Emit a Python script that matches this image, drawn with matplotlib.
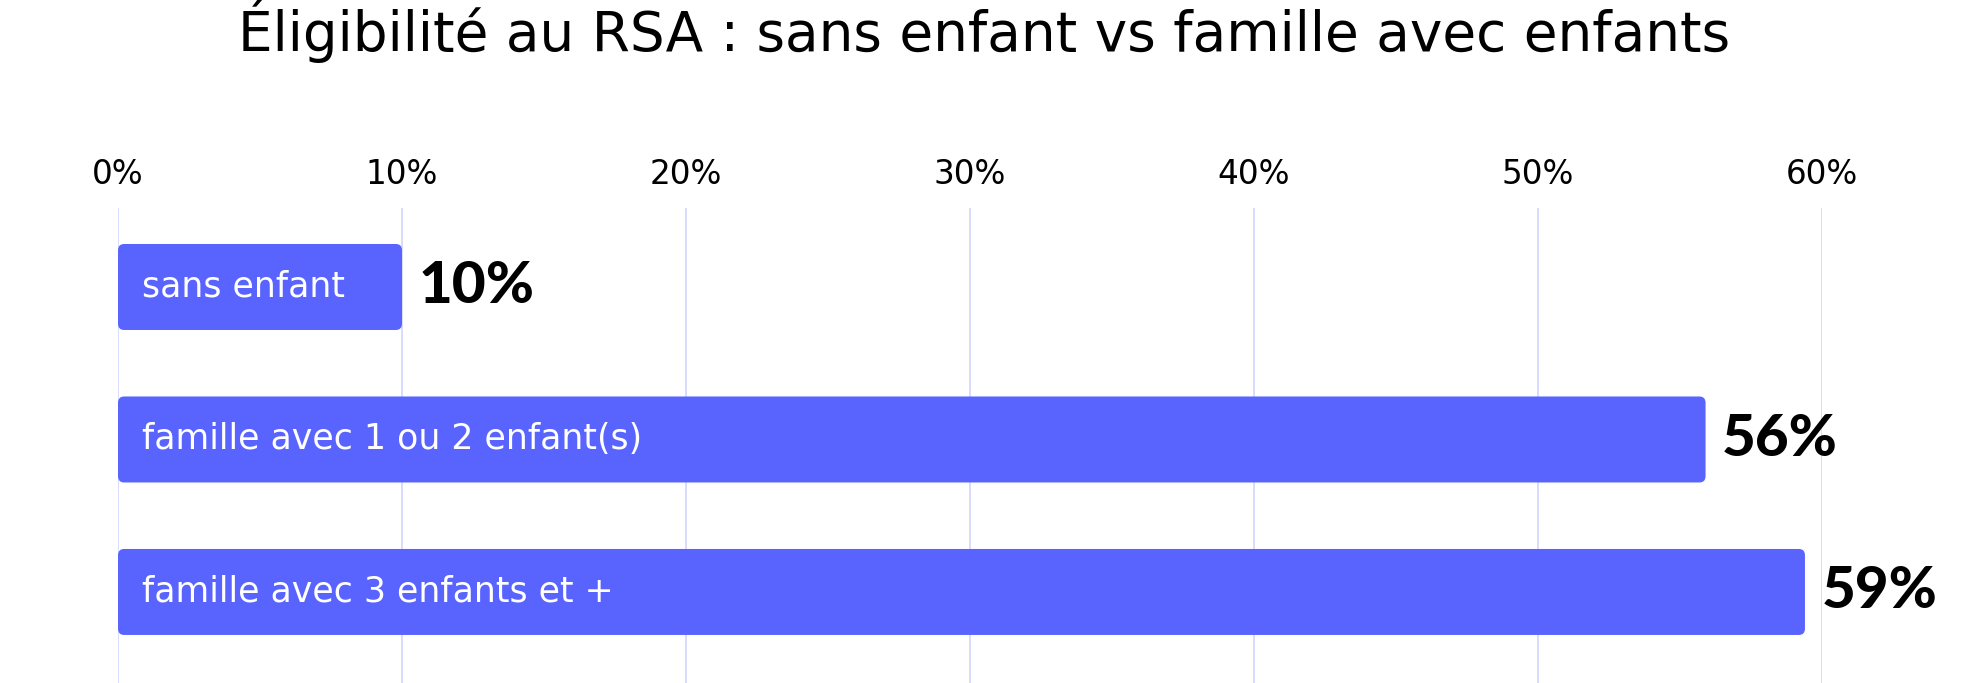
import matplotlib.pyplot as plt
from matplotlib.patches import FancyBboxPatch

categories = ["sans enfant", "famille avec 1 ou 2 enfant(s)", "famille avec 3 enfants et +"]
values = [10.0, 55.9, 59.4]
ticks = [0, 10, 20, 30, 40, 50, 60]
tick_labels = [f"{t}%" for t in ticks]

bar_color = "#5964FF"
grid_color = "#D6DAFB"

W, H = 1968, 683
fig = plt.figure(figsize=(W / 100, H / 100), dpi=100)
# axes spans x 0..60 -> px 118..1822, y from grid top (208px) to bottom
ax = fig.add_axes([118 / W, 0, (1822 - 118) / W, (H - 208) / H])
ax.set_xlim(0, 60)
ax.set_ylim(2.597, -0.518)

for s in ax.spines.values():
    s.set_visible(False)
ax.set_yticks([])
ax.xaxis.tick_top()
ax.set_xticks(ticks)
ax.set_xticklabels(tick_labels, fontsize=23.5, family="DejaVu Sans")
ax.tick_params(axis="x", length=0, pad=12)
for t in ticks:
    ax.axvline(t, color=grid_color, lw=1.3, zorder=0)

ypos = list(range(len(categories)))
bars = ax.barh(ypos, values, height=0.564, color=bar_color)
for b in bars:
    x0, y0, w, h = b.get_x(), b.get_y(), b.get_width(), b.get_height()
    b.set_visible(False)
    ax.add_patch(FancyBboxPatch((x0, y0), w, h,
                                boxstyle="round,pad=0,rounding_size=0.22",
                                mutation_aspect=28.4 / 152.5,
                                fc=bar_color, ec="none", zorder=2))

for y, cat, v in zip(ypos, categories, values):
    ax.text(0.85, y, cat, color="white", fontsize=25, va="center", ha="left",
            family="DejaVu Sans", zorder=3)
    ax.annotate(f"{v:.0f}%", xy=(v, y), xytext=(12, 0), textcoords="offset points",
                fontsize=42, fontweight="black", fontstyle="normal", family="Lato",
                va="center", ha="left", annotation_clip=False)

fig.text(0.5, 1 - 31 / H, "Éligibilité au RSA : sans enfant vs famille avec enfants",
         ha="center", va="center", fontsize=39.5, family="DejaVu Sans")

fig.savefig("out.png", dpi=100, facecolor="white")
